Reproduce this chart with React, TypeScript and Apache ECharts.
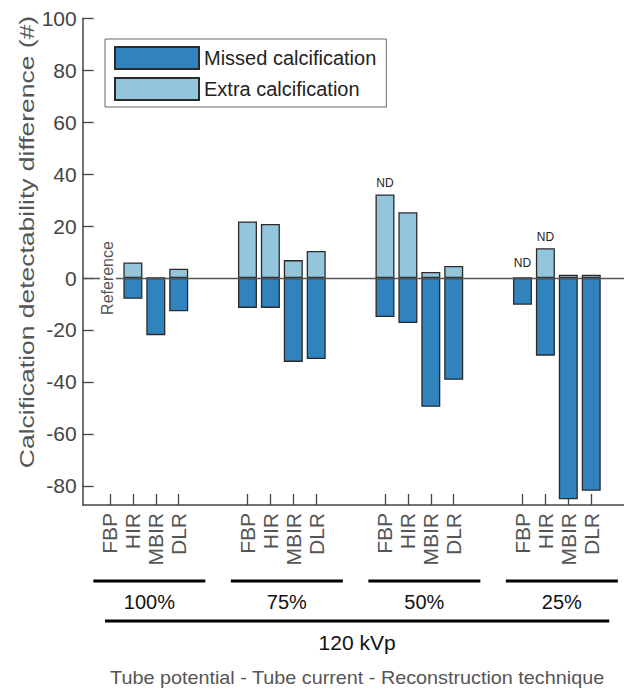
import React, { useEffect, useRef } from "react";
import * as echarts from "echarts";

const methods = ["FBP", "HIR", "MBIR", "DLR"];
const tubeCurrents = ["100%", "75%", "50%", "25%"];
const tubePotential = "120 kVp";
const footerTitle = "Tube potential - Tube current - Reconstruction technique";
const yTitle = "Calcification detectability difference (#)";
const missedValues = [null, -8, -22, -12.8, -11.5, -11.5, -32.3, -31.2, -15, -17.3, -49.6, -39.2, -10.3, -29.9, -85.2, -81.9];
const extraValues = [null, 6, 0, 3.6, 21.8, 20.8, 6.9, 10.4, 32.2, 25.3, 2.3, 4.6, 0, 11.5, 1.3, 1.3];
const notDetected = [false, false, false, false, false, false, false, false, true, false, false, false, true, true, false, false];
const yTicks = [-80, -60, -40, -20, 0, 20, 40, 60, 80, 100];

const FONT = "'Liberation Sans', Arial, Helvetica, sans-serif";
const MISSED_COLOR = "#3183bd";
const EXTRA_COLOR = "#93c6dd";
const BORDER = "#2a2a2a";

// slot index of each bar (4 bars per group, 2 empty slots between groups)
const slotOf = (i: number) => Math.floor(i / 4) * 6 + (i % 4) + 1;
const positions = missedValues.map((_, i) => slotOf(i));

export default function App() {
  const ref = useRef<HTMLDivElement>(null);
  useEffect(() => {
    if (!ref.current) return;
    const chart = echarts.init(ref.current, undefined, { renderer: "svg" });
    const barStyle = (color: string) => ({ color, borderColor: BORDER, borderWidth: 1.3 });
    chart.setOption({
      animation: false,
      textStyle: { fontFamily: FONT },
      grid: { left: 82.7, right: 0, top: 18.3, bottom: 185 },
      legend: {
        orient: "vertical",
        left: 105,
        top: 39,
        padding: [7, 10, 6, 9],
        itemWidth: 84,
        itemHeight: 22,
        itemGap: 7,
        borderColor: "#666",
        borderWidth: 1,
        backgroundColor: "#fff",
        icon: "rect",
        textStyle: { fontSize: 20, color: "#222", fontFamily: FONT },
        data: ["Missed calcification", "Extra calcification"],
      },
      xAxis: {
        type: "value",
        min: -0.19,
        max: 23.43,
        splitLine: { show: false },
        axisLine: { show: true, onZero: false, lineStyle: { color: "#444", width: 1.5 } },
        axisTick: {
          show: true,
          inside: true,
          length: 11,
          customValues: positions,
          lineStyle: { color: "#444", width: 1.3 },
        },
        axisLabel: {
          show: true,
          rotate: 90,
          fontSize: 21,
          color: "#555",
          margin: 8,
          customValues: positions,
          formatter: (v: number) => {
            const i = positions.indexOf(Math.round(v));
            return i >= 0 ? methods[i % 4] : "";
          },
        },
      },
      yAxis: {
        type: "value",
        min: -87.4,
        max: 100,
        splitLine: { show: false },
        axisLine: { show: true, onZero: false, lineStyle: { color: "#444", width: 1.5 } },
        axisTick: {
          show: true,
          inside: true,
          length: 11,
          customValues: yTicks,
          lineStyle: { color: "#444", width: 1.3 },
        },
        axisLabel: { fontSize: 21, color: "#444", margin: 6, customValues: yTicks },
      },
      series: [
        {
          name: "Missed calcification",
          type: "bar",
          stack: "diff",
          barWidth: 19,
          itemStyle: barStyle(MISSED_COLOR),
          data: missedValues
            .map((v, i) => ({ value: [positions[i], v] }))
            .filter((d) => d.value[1] !== null),
        },
        {
          name: "Extra calcification",
          type: "bar",
          stack: "diff",
          barWidth: 19,
          itemStyle: barStyle(EXTRA_COLOR),
          label: {
            show: false,
            position: "top",
            distance: 5,
            fontSize: 12,
            color: "#222",
            formatter: () => "ND",
          },
          data: extraValues
            .map((v, i) => ({
              value: [positions[i], v],
              label: notDetected[i] ? { show: true, distance: v === 0 ? 8 : 5 } : undefined,
            }))
            .filter((d) => d.value[1] !== null),
          markLine: {
            silent: true,
            symbol: ["none", "none"],
            label: { show: false },
            lineStyle: { color: "#555", width: 1.3, type: "solid" },
            data: [{ yAxis: 0 }],
          },
        },
      ],
    });

    const px = (x: number) => chart.convertToPixel({ xAxisIndex: 0 }, x) as number;
    const py = (y: number) => chart.convertToPixel({ yAxisIndex: 0 }, y) as number;
    const axisBottom = py(-87.4);
    const graphics: any[] = [];
    graphics.push({
      type: "text",
      x: 27,
      y: 242,
      rotation: Math.PI / 2,
      scaleX: 1.26,
      style: { text: yTitle, fontSize: 21, fill: "#555", fontFamily: FONT, align: "center", verticalAlign: "middle" },
    });
    graphics.push({
      type: "text",
      x: px(positions[0]) - 2,
      y: py(0),
      rotation: Math.PI / 2,
      z: 10,
      style: {
        text: "Reference",
        fontSize: 16,
        fill: "#555",
        fontFamily: FONT,
        align: "center",
        verticalAlign: "middle",
        backgroundColor: "#fff",
        padding: [0, 2, 0, 2],
      },
    });
    tubeCurrents.forEach((label, g) => {
      const cx = (px(positions[g * 4]) + px(positions[g * 4 + 3])) / 2 + 5;
      graphics.push({
        type: "line",
        shape: { x1: cx - 56, y1: axisBottom + 76, x2: cx + 56, y2: axisBottom + 76 },
        style: { stroke: "#000", lineWidth: 2.8 },
      });
      graphics.push({
        type: "text",
        x: cx,
        y: axisBottom + 97,
        style: { text: label, fontSize: 20, fill: "#111", fontFamily: FONT, align: "center", verticalAlign: "middle" },
      });
    });
    const kx1 = px(positions[0]) - 5;
    const kx2 = px(positions[positions.length - 1]) + 18;
    graphics.push({
      type: "line",
      shape: { x1: kx1, y1: axisBottom + 116, x2: kx2, y2: axisBottom + 116 },
      style: { stroke: "#000", lineWidth: 2.8 },
    });
    graphics.push({
      type: "text",
      x: (kx1 + kx2) / 2,
      y: axisBottom + 137,
      style: { text: tubePotential, fontSize: 21, fill: "#111", fontFamily: FONT, align: "center", verticalAlign: "middle" },
    });
    graphics.push({
      type: "text",
      x: (kx1 + kx2) / 2,
      y: axisBottom + 173,
      scaleX: 1.1,
      style: { text: footerTitle, fontSize: 18, fill: "#555", fontFamily: FONT, align: "center", verticalAlign: "middle" },
    });
    chart.setOption({ graphic: graphics });

    return () => chart.dispose();
  }, []);
  return <div ref={ref} style={{ position: "absolute", left: 0, top: 0, width: 624, height: 690 }} />;
}
